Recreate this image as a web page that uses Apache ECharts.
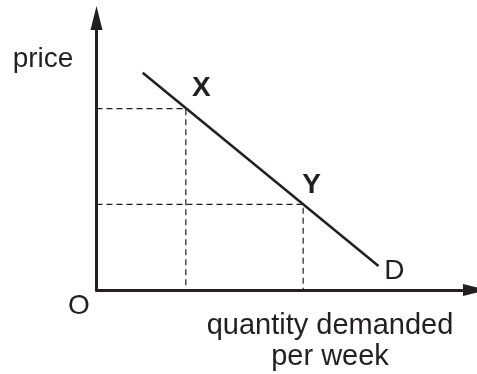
<!DOCTYPE html>
<html>
<head>
<meta charset="utf-8">
<script src="https://cdn.jsdelivr.net/npm/echarts@6/dist/echarts.min.js"></script>
<style>
html,body{margin:0;padding:0;background:#fff;}
#c{width:477px;height:374px;}
</style>
</head>
<body>
<div id="c"></div>
<script>
// Demand line endpoints (quantity, price) in arbitrary units 0-100
const demandQ = [12.2, 74.5];
const demandP = [79.9, 8.8];
// Marked points on the demand curve
const pointNames = ['X', 'Y'];
const pointQ = [23.6, 54.6];
const pointP = [66.7, 31.5];
// Text
const yTitle = 'price';
const xTitle = 'quantity demanded\nper week';
const originLabel = 'O';
const curveLabel = 'D';

const ink = '#231f20';
const font = '"Liberation Sans", Arial, Helvetica, sans-serif';

const chart = echarts.init(document.getElementById('c'), null, {renderer: 'canvas'});

const labelOffsets = {X: [15.5, -20], Y: [8.5, -19]};

const dashedSeries = pointNames.map((n, i) => ({
  type: 'line',
  data: [[0, pointP[i]], [pointQ[i], pointP[i]], [pointQ[i], 0]],
  symbol: 'none',
  silent: true,
  lineStyle: {color: ink, width: 1.2, type: [6, 4]},
  z: 2
}));

chart.setOption({
  animation: false,
  backgroundColor: '#fff',
  grid: {left: 96.5, right: 2, top: 18, bottom: 84},
  xAxis: {
    type: 'value', min: 0, max: 100,
    axisLine: {show: true, symbol: ['none', 'triangle'], symbolSize: [12, 24],
      lineStyle: {color: ink, width: 3}},
    axisTick: {show: false}, axisLabel: {show: false}, splitLine: {show: false}
  },
  yAxis: {
    type: 'value', min: 0, max: 100,
    axisLine: {show: true, symbol: ['none', 'triangle'], symbolSize: [12, 24],
      lineStyle: {color: ink, width: 3}},
    axisTick: {show: false}, axisLabel: {show: false}, splitLine: {show: false}
  },
  series: [
    ...dashedSeries,
    {
      type: 'line',
      data: demandQ.map((q, i) => [q, demandP[i]]),
      symbol: 'none',
      lineStyle: {color: ink, width: 2.5},
      z: 3
    },
    {
      type: 'scatter',
      symbolSize: 0,
      z: 4,
      itemStyle: {opacity: 1, color: ink},
      label: {show: true, position: 'inside', color: ink, opacity: 1, fontFamily: font, fontSize: 28,
        align: 'center', verticalAlign: 'middle', formatter: p => p.name},
      data: [
        ...pointNames.map((n, i) => ({name: n, value: [pointQ[i], pointP[i]],
          label: {fontWeight: 'bold', offset: labelOffsets[n]}})),
        {name: curveLabel, value: [demandQ[1], demandP[1]], label: {offset: [16, 5]}},
        {name: originLabel, value: [0, 0], label: {offset: [-17.5, 16]}}
      ]
    }
  ],
  graphic: [
    {type: 'text', x: 43, y: 59, style: {text: yTitle, fill: ink, font: '28px ' + font,
      textAlign: 'center', textVerticalAlign: 'middle'}},
    {type: 'text', x: 330, y: 341.5, style: {text: xTitle, fill: ink, font: '29px ' + font,
      lineHeight: 31, textAlign: 'center', textVerticalAlign: 'middle'}}
  ]
});
</script>
</body>
</html>
